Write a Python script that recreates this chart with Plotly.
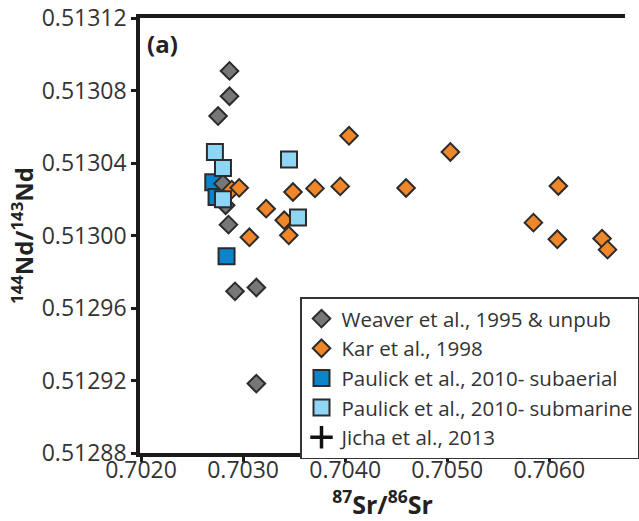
import plotly.graph_objects as go

# Weaver et al., 1995 & unpub
weaver_sr = [0.702867, 0.702867, 0.702755, 0.702803, 0.702829, 0.702857, 0.702921, 0.703130, 0.703130]
weaver_nd = [0.5130908, 0.5130768, 0.5130659, 0.5130286, 0.5130167, 0.5130060, 0.5129692, 0.5129713, 0.5129183]

# Kar et al., 1998
kar_sr = [0.702889, 0.702962, 0.703226, 0.703403, 0.703448, 0.703062, 0.703489, 0.703705, 0.704038,
          0.703952, 0.704597, 0.705031, 0.706089, 0.705845, 0.706079, 0.706517, 0.706571]
kar_nd = [0.5130253, 0.5130263, 0.5130148, 0.5130084, 0.5130001, 0.5129990, 0.5130240, 0.5130260, 0.5130550,
          0.5130271, 0.5130262, 0.5130461, 0.5130273, 0.5130071, 0.5129979, 0.5129983, 0.5129922]

# Paulick et al., 2010 - subaerial
sub_aer_sr = [0.702708, 0.702740, 0.702838]
sub_aer_nd = [0.5130294, 0.5130212, 0.5129885]

# Paulick et al., 2010 - submarine
sub_mar_sr = [0.702724, 0.702803, 0.702803, 0.703450, 0.703538]
sub_mar_nd = [0.5130461, 0.5130372, 0.5130200, 0.5130419, 0.5130099]

# Jicha et al., 2013 (legend only)
jicha_sr = [None]
jicha_nd = [None]

x_ticks = [0.7020, 0.7030, 0.7040, 0.7050, 0.7060]
x_tick_labels = ["0.7020", "0.7030", "0.7040", "0.7050", "0.7060"]
y_ticks = [0.51288, 0.51292, 0.51296, 0.51300, 0.51304, 0.51308, 0.51312]
y_tick_labels = ["0.51288", "0.51292", "0.51296", "0.51300", "0.51304", "0.51308", "0.51312"]

EDGE = "#2b2b2b"
fig = go.Figure()

fig.add_trace(go.Scatter(
    x=sub_aer_sr, y=sub_aer_nd, mode="markers", name="Paulick et al., 2010- subaerial",
    legendrank=3,
    marker=dict(symbol="square", size=16, color="#0a85cc", line=dict(color=EDGE, width=2))))
fig.add_trace(go.Scatter(
    x=weaver_sr, y=weaver_nd, mode="markers", name="Weaver et al., 1995 & unpub",
    legendrank=1,
    marker=dict(symbol="diamond", size=13.5, color="#777777", line=dict(color=EDGE, width=2))))
fig.add_trace(go.Scatter(
    x=kar_sr, y=kar_nd, mode="markers", name="Kar et al., 1998",
    legendrank=2,
    marker=dict(symbol="diamond", size=13.5, color="#f0862a", line=dict(color=EDGE, width=2))))
fig.add_trace(go.Scatter(
    x=sub_mar_sr, y=sub_mar_nd, mode="markers", name="Paulick et al., 2010- submarine",
    legendrank=4,
    marker=dict(symbol="square", size=16, color="#8ed5f6", line=dict(color=EDGE, width=2))))
fig.add_trace(go.Scatter(
    x=jicha_sr, y=jicha_nd, mode="markers", name="Jicha et al., 2013",
    legendrank=5,
    marker=dict(symbol="cross-thin", size=16, color="#111111", line=dict(color="#111111", width=3.5))))

FONT = "Open Sans"
fig.update_layout(
    width=639, height=521,
    margin=dict(l=140, r=0, t=18, b=68),
    paper_bgcolor="white", plot_bgcolor="white",
    font=dict(family=FONT, color="#333333"),
    showlegend=True,
    legend=dict(
        x=0.33, y=0.358, xanchor="left", yanchor="top",
        bgcolor="white", bordercolor="#333333", borderwidth=1.5,
        font=dict(family=FONT, size=20.5, color="#333333"),
        tracegroupgap=0, itemsizing="trace",
    ),
    xaxis=dict(
        range=[0.70199, 0.706742], automargin=False,
        tickvals=x_ticks, ticktext=x_tick_labels,
        showgrid=False, zeroline=False,
        showline=True, linecolor="#1a1a1a", linewidth=3.5, mirror=True,
        ticks="outside", ticklen=5, tickwidth=3, tickcolor="#1a1a1a",
        ticklabelstandoff=-11,
        tickfont=dict(family=FONT, size=23, color="#333333"),
        title=dict(text="<b><sup>87</sup>Sr/<sup>86</sup>Sr</b>", standoff=2,
                   font=dict(family=FONT, size=25, color="#222222")),
    ),
    yaxis=dict(
        range=[0.51288, 0.51312], automargin=False,
        tickvals=y_ticks, ticktext=y_tick_labels,
        showgrid=False, zeroline=False,
        showline=True, linecolor="#1a1a1a", linewidth=3.5, mirror=False,
        ticks="outside", ticklen=5, tickwidth=3, tickcolor="#1a1a1a",
        tickfont=dict(family=FONT, size=23, color="#333333"),
        title=dict(text="<b><sup>144</sup>Nd/<sup>143</sup>Nd</b>", standoff=2,
                   font=dict(family=FONT, size=24, color="#222222")),
    ),
    annotations=[dict(
        text="<b>(a)</b>", x=0.01, y=0.985, xref="paper", yref="paper",
        xanchor="left", yanchor="top", showarrow=False,
        font=dict(family=FONT, size=24, color="#222222"))],
)

fig.write_html("out.html", config={"displayModeBar": False},
               post_script="document.body.style.margin='0';")
